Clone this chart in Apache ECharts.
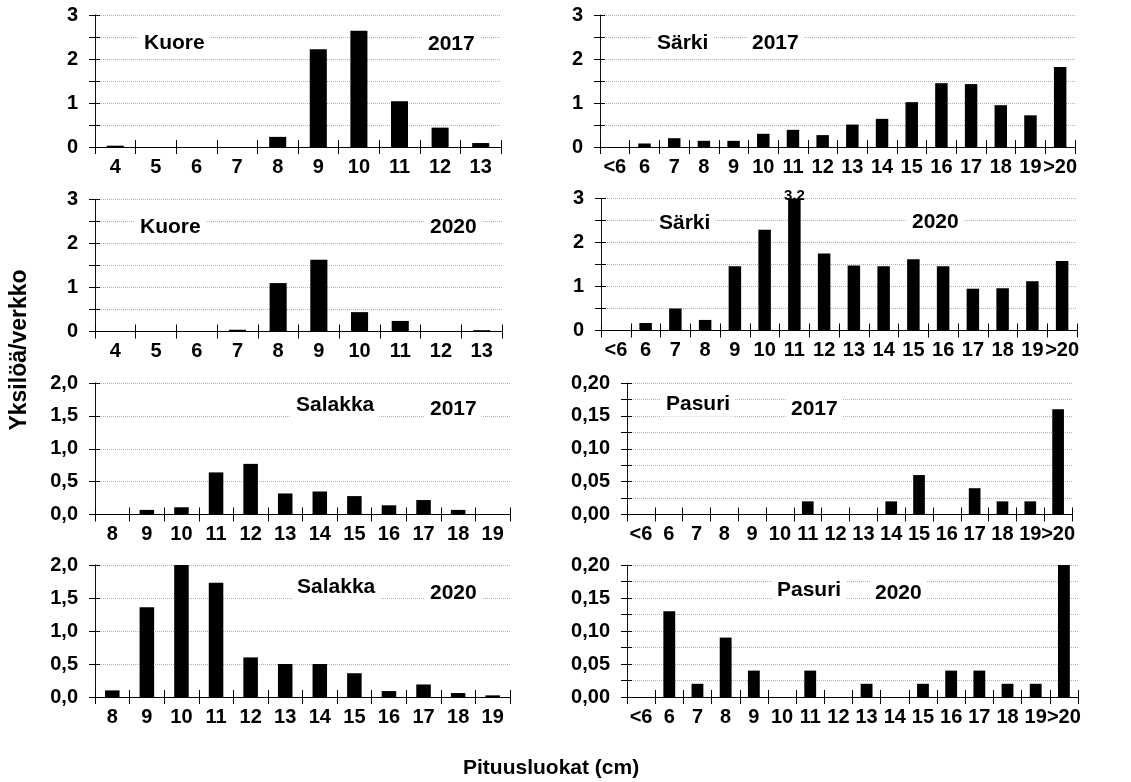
<!DOCTYPE html>
<html>
<head>
<meta charset="utf-8">
<script src="https://cdn.jsdelivr.net/npm/echarts@6/dist/echarts.min.js"></script>
<style>
html,body{margin:0;padding:0;background:#fff;}
#chart{width:1131px;height:782px;}
</style>
</head>
<body>
<div id="chart"></div>
<script>
// ---- categories ----
const catsKuore = ['4','5','6','7','8','9','10','11','12','13'];
const catsSarki = ['<6','6','7','8','9','10','11','12','13','14','15','16','17','18','19','>20'];
const catsSalakka = ['8','9','10','11','12','13','14','15','16','17','18','19'];
const catsPasuri = ['<6','6','7','8','9','10','11','12','13','14','15','16','17','18','19','>20'];

// ---- values (yksilöä/verkko) ----
const kuore2017 = [0.03, 0, 0, 0, 0.23, 2.22, 2.64, 1.04, 0.44, 0.09];
const kuore2020 = [0, 0, 0, 0.04, 1.10, 1.63, 0.44, 0.24, 0, 0.03];
const sarki2017 = [0, 0.08, 0.20, 0.14, 0.14, 0.30, 0.39, 0.27, 0.51, 0.64, 1.02, 1.45, 1.43, 0.95, 0.72, 1.82];
const sarki2020 = [0, 0.17, 0.50, 0.24, 1.46, 2.29, 3.2, 1.75, 1.48, 1.46, 1.62, 1.46, 0.95, 0.96, 1.12, 1.58];
const salakka2017 = [0, 0.07, 0.11, 0.64, 0.77, 0.32, 0.35, 0.28, 0.14, 0.22, 0.07, 0];
const salakka2020 = [0.10, 1.36, 2.0, 1.73, 0.60, 0.50, 0.50, 0.36, 0.09, 0.19, 0.06, 0.025];
const pasuri2017 = [0, 0, 0, 0, 0, 0, 0.02, 0, 0, 0.02, 0.06, 0, 0.04, 0.02, 0.02, 0.16];
const pasuri2020 = [0, 0.13, 0.02, 0.09, 0.04, 0, 0.04, 0, 0.02, 0, 0.02, 0.04, 0.04, 0.02, 0.02, 0.20];

// ---- texts ----
const yTitle = 'Yksilöä/verkko';
const xTitle = 'Pituusluokat (cm)';

const FONT = "'Liberation Sans', Arial, sans-serif";

const panels = [
  {species:'Kuore', year:'2017', cats:catsKuore, data:kuore2017, max:3, step:0.5, lab:1, dec:0,
   grid:{left:95, top:15, width:406, height:132}, sp:[144,43], yr:[428,44]},
  {species:'Särki', year:'2017', cats:catsSarki, data:sarki2017, max:3, step:0.5, lab:1, dec:0,
   grid:{left:600, top:15, width:475, height:132}, sp:[657,43], yr:[752,43]},
  {species:'Kuore', year:'2020', cats:catsKuore, data:kuore2020, max:3, step:0.5, lab:1, dec:0,
   grid:{left:95, top:199.5, width:407, height:132}, sp:[140,227], yr:[430,227]},
  {species:'Särki', year:'2020', cats:catsSarki, data:sarki2020, max:3, step:0.5, lab:1, dec:0,
   grid:{left:601, top:198.5, width:476, height:132}, sp:[659,223], yr:[912,222]},
  {species:'Salakka', year:'2017', cats:catsSalakka, data:salakka2017, max:2, step:0.5, lab:0.5, dec:1,
   grid:{left:95, top:383, width:415, height:131.5}, sp:[296,405], yr:[430,409]},
  {species:'Pasuri', year:'2017', cats:catsPasuri, data:pasuri2017, max:0.2, step:0.025, lab:0.05, dec:2,
   grid:{left:627, top:383, width:445, height:131.5}, sp:[666,404], yr:[791,409]},
  {species:'Salakka', year:'2020', cats:catsSalakka, data:salakka2020, max:2, step:0.5, lab:0.5, dec:1,
   grid:{left:95, top:565, width:415, height:132}, sp:[297,587], yr:[430,593]},
  {species:'Pasuri', year:'2020', cats:catsPasuri, data:pasuri2020, max:0.2, step:0.025, lab:0.05, dec:2,
   grid:{left:627, top:565, width:451, height:132}, sp:[777,590], yr:[875,593]}
];

const grids = [], xAxes = [], yAxes = [], series = [], graphics = [];

panels.forEach((p, i) => {
  grids.push(Object.assign({containLabel:false}, p.grid));
  const xi = xAxes.length, yi = yAxes.length;
  xAxes.push({
    type:'category', gridIndex:i, position:'bottom', data:p.cats, boundaryGap:true,
    axisLine:{show:true, lineStyle:{color:'#000', width:1}},
    axisTick:{show:true, length:7, inside:false, alignWithLabel:false, interval:0, lineStyle:{color:'#000'}},
    axisLabel:{show:true, interval:0, margin:10, color:'#000', fontFamily:FONT, fontWeight:'bold', fontSize:20},
    splitLine:{show:false}
  });
  xAxes.push({
    type:'category', gridIndex:i, position:'bottom', data:p.cats, boundaryGap:true,
    axisLine:{show:false},
    axisTick:{show:true, length:7, inside:true, alignWithLabel:false, interval:0, lineStyle:{color:'#000'}},
    axisLabel:{show:false}, splitLine:{show:false}
  });
  const fmt = v => {
    const r = Math.round(v / p.lab * 1000) / 1000;
    if (Math.abs(r - Math.round(r)) > 1e-6) return '';
    return v.toFixed(p.dec).replace('.', ',');
  };
  yAxes.push({
    type:'value', gridIndex:i, position:'left', min:0, max:p.max, interval:p.step,
    axisLine:{show:true, lineStyle:{color:'#111', width:1}},
    axisTick:{show:true, length:6, inside:false, lineStyle:{color:'#000'}},
    axisLabel:{show:true, formatter:fmt, margin:17, color:'#000', fontFamily:FONT, fontWeight:'bold', fontSize:20},
    splitLine:{show:true, lineStyle:{color:'#b0b0b0', type:[1,1], width:1}}
  });
  yAxes.push({
    type:'value', gridIndex:i, position:'left', min:0, max:p.max, interval:p.step,
    axisLine:{show:false},
    axisTick:{show:true, length:5, inside:true, lineStyle:{color:'#000'}},
    axisLabel:{show:false}, splitLine:{show:false}
  });
  const data = p.data.map(v => {
    if (v > p.max) {
      return {value:v, label:{show:true, position:'top', distance:-5,
        formatter:String(v).replace('.', ','), color:'#000', fontFamily:FONT, fontWeight:'bold', fontSize:15}};
    }
    return v;
  });
  series.push({
    type:'bar', xAxisIndex:xi, yAxisIndex:yi, data:data, barWidth:'42%', clip:true,
    itemStyle:{color:'#000'}, emphasis:{disabled:true}, silent:true, animation:false
  });
  const txt = (s, pos) => ({
    type:'text', z:100, x:pos[0], y:pos[1],
    style:{text:s, fill:'#000', font:'bold 21px ' + FONT, verticalAlign:'middle', align:'left',
      backgroundColor:'#fff', padding:[2,5]}
  });
  graphics.push(txt(p.species, [p.sp[0]-5, p.sp[1]]));
  graphics.push(txt(p.year, [p.yr[0]-5, p.yr[1]]));
});

graphics.push({
  type:'text', z:100, x:20, y:350, rotation:Math.PI/2,
  style:{text:yTitle, fill:'#000', font:'bold 23px ' + FONT, align:'center', verticalAlign:'middle'}
});
graphics.push({
  type:'text', z:100, x:463, y:768,
  style:{text:xTitle, fill:'#000', font:'bold 21px ' + FONT, align:'left', verticalAlign:'middle'}
});

const chart = echarts.init(document.getElementById('chart'), null, {renderer:'canvas'});
chart.setOption({
  backgroundColor:'#fff',
  animation:false,
  grid:grids, xAxis:xAxes, yAxis:yAxes, series:series, graphic:graphics
});
</script>
</body>
</html>
